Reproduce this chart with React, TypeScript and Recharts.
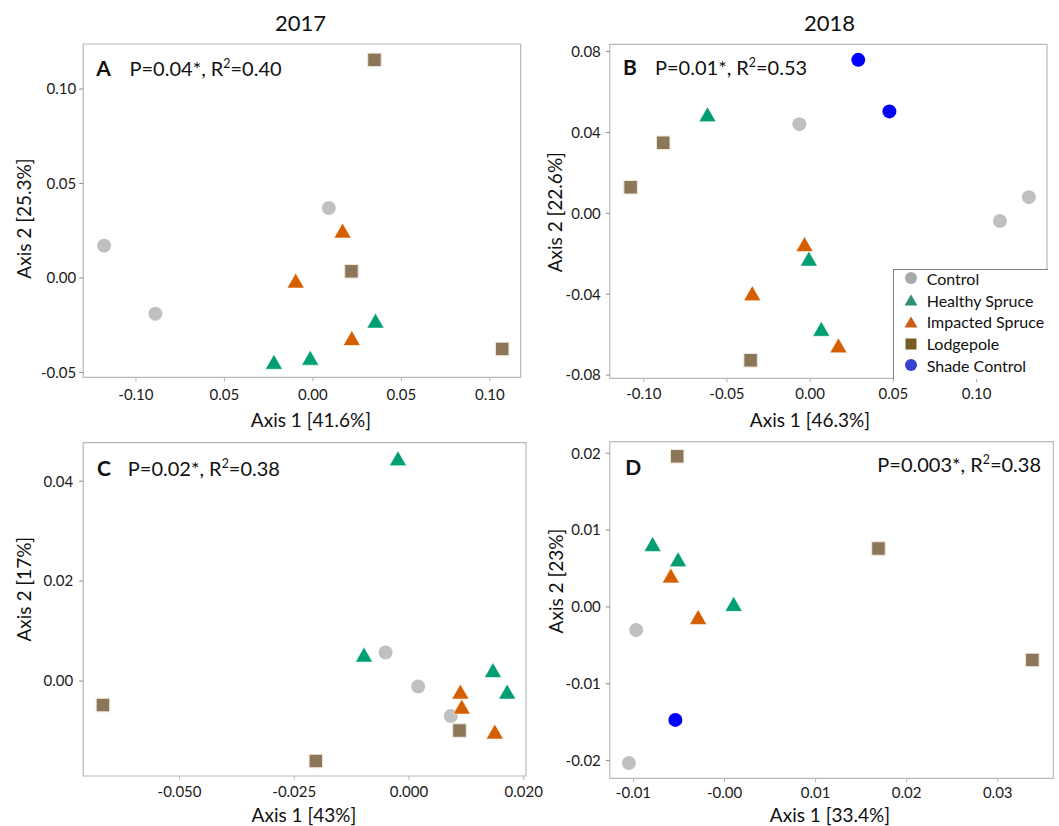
import React from 'react'
import { ScatterChart, Scatter, XAxis, YAxis, ReferenceArea, Legend } from 'recharts'

type Pt = { x: number; y: number }
type Kind = 'circle' | 'triangle' | 'square'

const FONT = 'Lato, "Open Sans", sans-serif'

// group colours for the points, and the (slightly darker) legend swatches
const groupNames = ['Control', 'Healthy Spruce', 'Impacted Spruce', 'Lodgepole', 'Shade Control']
const pointColors = ['#c0c0c0', '#009e73', '#d55e00', '#8b7758', '#0000ff']
const legendColors = ['#a8a8a8', '#2f8f72', '#c95d17', '#7a5c1e', '#3343cc']
const groupKinds: Kind[] = ['circle', 'triangle', 'triangle', 'square', 'circle']

// A: 2017
const aControl: Pt[] = [{ x: -0.118, y: 0.017 }, { x: -0.089, y: -0.019 }, { x: 0.009, y: 0.037 }]
const aHealthy: Pt[] = [{ x: -0.022, y: -0.0444 }, { x: -0.0015, y: -0.0422 }, { x: 0.0354, y: -0.0226 }]
const aImpacted: Pt[] = [{ x: 0.0168, y: 0.0251 }, { x: -0.0097, y: -0.0014 }, { x: 0.022, y: -0.0318 }]
const aLodgepole: Pt[] = [{ x: 0.0348, y: 0.1154 }, { x: 0.0218, y: 0.0035 }, { x: 0.107, y: -0.0376 }]
const aXTicks = [-0.1, -0.05, 0, 0.05, 0.1]
const aXLabels = ['-0.10', '0.05', '0.00', '0.05', '0.10']
const aYTicks = [-0.05, 0, 0.05, 0.1]
const aYLabels = ['-0.05', '0.00', '0.05', '0.10']

// B: 2018
const bControl: Pt[] = [{ x: -0.0065, y: 0.0441 }, { x: 0.114, y: -0.0038 }, { x: 0.1314, y: 0.008 }]
const bHealthy: Pt[] = [{ x: -0.0617, y: 0.049 }, { x: -0.0008, y: -0.0224 }, { x: 0.0067, y: -0.0571 }]
const bImpacted: Pt[] = [{ x: -0.0034, y: -0.0152 }, { x: -0.0348, y: -0.0395 }, { x: 0.017, y: -0.0653 }]
const bLodgepole: Pt[] = [{ x: -0.0883, y: 0.0349 }, { x: -0.1079, y: 0.0129 }, { x: -0.0358, y: -0.0727 }]
const bShade: Pt[] = [{ x: 0.0289, y: 0.0759 }, { x: 0.0476, y: 0.0504 }]
const bXTicks = [-0.1, -0.05, 0, 0.05, 0.1]
const bXLabels = ['-0.10', '-0.05', '0.00', '0.05', '0.10']
const bYTicks = [-0.08, -0.04, 0, 0.04, 0.08]
const bYLabels = ['-0.08', '-0.04', '0.00', '0.04', '0.08']

// C: 2017
const cControl: Pt[] = [{ x: -0.0051, y: 0.0057 }, { x: 0.002, y: -0.0011 }, { x: 0.0091, y: -0.007 }]
const cHealthy: Pt[] = [{ x: -0.0024, y: 0.0446 }, { x: -0.0098, y: 0.0053 }, { x: 0.0183, y: 0.0022 }, { x: 0.0214, y: -0.0021 }]
const cImpacted: Pt[] = [{ x: 0.0112, y: -0.0021 }, { x: 0.0115, y: -0.0051 }, { x: 0.0187, y: -0.0101 }]
const cLodgepole: Pt[] = [{ x: -0.0667, y: -0.0048 }, { x: -0.0203, y: -0.016 }, { x: 0.011, y: -0.0099 }]
const cXTicks = [-0.05, -0.025, 0, 0.025]
const cXLabels = ['-0.050', '-0.025', '0.000', '0.020']
const cYTicks = [0, 0.02, 0.04]
const cYLabels = ['0.00', '0.02', '0.04']

// D: 2018
const dControl: Pt[] = [{ x: -0.0097, y: -0.003 }, { x: -0.0105, y: -0.0203 }]
const dHealthy: Pt[] = [{ x: -0.0079, y: 0.0082 }, { x: -0.0051, y: 0.0062 }, { x: 0.001, y: 0.0004 }]
const dImpacted: Pt[] = [{ x: -0.0059, y: 0.0041 }, { x: -0.0029, y: -0.0013 }]
const dLodgepole: Pt[] = [{ x: -0.0052, y: 0.0196 }, { x: 0.0169, y: 0.0076 }, { x: 0.0338, y: -0.0069 }]
const dShade: Pt[] = [{ x: -0.0054, y: -0.0147 }]
const dXTicks = [-0.01, 0, 0.01, 0.02, 0.03]
const dXLabels = ['-0.01', '-0.00', '0.01', '0.02', '0.03']
const dYTicks = [-0.02, -0.01, 0, 0.01, 0.02]
const dYLabels = ['-0.02', '-0.01', '0.00', '0.01', '0.02']

function makeShape(kind: Kind, fill: string) {
  return (props: any) => {
    const { cx, cy } = props
    if (cx == null || cy == null) return <g />
    if (kind === 'circle') return <circle cx={cx} cy={cy} r={7} fill={fill} />
    if (kind === 'square')
      return <rect x={cx - 6.75} y={cy - 6.75} width={13.5} height={13.5} fill={fill} stroke="#eee8dd" strokeWidth={1} />
    return (
      <polygon
        points={`${cx},${cy - 7.5} ${cx + 8.6},${cy + 7.5} ${cx - 8.6},${cy + 7.5}`}
        fill={fill}
        stroke="#ffffff"
        strokeWidth={0.6}
      />
    )
  }
}

function LegendIcon({ kind, color }: { kind: Kind; color: string }) {
  return (
    <svg width={14} height={14} style={{ display: 'block' }}>
      {kind === 'circle' && <circle cx={7} cy={7} r={6} fill={color} />}
      {kind === 'square' && <rect x={1.5} y={1.5} width={11} height={11} fill={color} />}
      {kind === 'triangle' && <polygon points="7,1.5 13.5,12.5 0.5,12.5" fill={color} />}
    </svg>
  )
}

function renderLegend() {
  return (
    <div
      style={{
        position: 'relative',
        width: 154,
        height: 109,
        borderLeft: '1.5px solid #7f7f7f',
        borderTop: '1.5px solid #7f7f7f',
        background: '#fff',
        fontFamily: FONT,
        fontSize: 16,
        color: '#111',
      }}
    >
      {groupNames.map((name, i) => (
        <div
          key={name}
          style={{
            position: 'absolute',
            left: 10,
            top: -3 + i * 21.8,
            height: 22,
            display: 'flex',
            alignItems: 'center',
            whiteSpace: 'nowrap',
          }}
        >
          <LegendIcon kind={groupKinds[i]} color={legendColors[i]} />
          <span style={{ marginLeft: 9 }}>{name}</span>
        </div>
      ))}
    </div>
  )
}

interface PanelProps {
  left: number
  top: number
  width: number
  height: number
  margin: { top: number; right: number; bottom: number; left: number }
  xDomain: [number, number]
  yDomain: [number, number]
  xTicks: number[]
  xLabels: string[]
  yTicks: number[]
  yLabels: string[]
  xTickMargin: number
  yTickMargin: number
  series: (Pt[] | null)[]
  legend?: boolean
}

function Panel(p: PanelProps) {
  const tick = { fontSize: 15, fill: '#1a1a1a', fontFamily: FONT }
  return (
    <div style={{ position: 'absolute', left: p.left, top: p.top }}>
      <ScatterChart width={p.width} height={p.height} margin={p.margin}>
        <XAxis
          dataKey="x"
          type="number"
          domain={p.xDomain}
          ticks={p.xTicks}
          interval={0}
          allowDataOverflow
          tickFormatter={(_v: number, i: number) => p.xLabels[i]}
          tick={tick}
          tickSize={4}
          tickMargin={p.xTickMargin}
          tickLine={{ stroke: '#b5b5b5' }}
          axisLine={false}
          height={30}
        />
        <YAxis
          dataKey="y"
          type="number"
          domain={p.yDomain}
          ticks={p.yTicks}
          interval={0}
          allowDataOverflow
          tickFormatter={(_v: number, i: number) => p.yLabels[i]}
          tick={tick}
          tickSize={4}
          tickMargin={p.yTickMargin}
          tickLine={{ stroke: '#8c8c8c' }}
          axisLine={false}
          width={60}
        />
        <ReferenceArea
          x1={p.xDomain[0]}
          x2={p.xDomain[1]}
          y1={p.yDomain[0]}
          y2={p.yDomain[1]}
          fill="none"
          stroke="#b8b8b8"
          strokeWidth={1.2}
        />
        {p.series.map((data, i) =>
          data ? (
            <Scatter
              key={groupNames[i]}
              name={groupNames[i]}
              data={data}
              fill={pointColors[i]}
              shape={makeShape(groupKinds[i], pointColors[i])}
              isAnimationActive={false}
            />
          ) : null,
        )}
        {p.legend && (
          <Legend
            layout="vertical"
            align="center"
            verticalAlign="middle"
            content={renderLegend}
            wrapperStyle={{ left: 362.7, top: 269.3, width: 155, height: 110 }}
          />
        )}
      </ScatterChart>
    </div>
  )
}

function Sup({ pre, post, x, y, size, anchor }: { pre: string; post: string; x: number; y: number; size: number; anchor?: 'start' | 'end' }) {
  return (
    <text x={x} y={y} fontSize={size} textAnchor={anchor ?? 'start'} fill="#111">
      <tspan>{pre}</tspan>
      <tspan dy={-8} fontSize={size * 0.62}>2</tspan>
      <tspan dy={8}>{post}</tspan>
    </text>
  )
}

export default function App() {
  return (
    <div style={{ position: 'absolute', left: 0, top: 0, width: 1059, height: 826, background: '#fff', fontFamily: FONT }}>
      <Panel
        left={0}
        top={0}
        width={530}
        height={420}
        margin={{ top: 44, right: 9.4, bottom: 12.7, left: 23.2 }}
        xDomain={[-0.1298, 0.1174]}
        yDomain={[-0.0526, 0.1238]}
        xTicks={aXTicks}
        xLabels={aXLabels}
        yTicks={aYTicks}
        yLabels={aYLabels}
        xTickMargin={8}
        yTickMargin={3}
        series={[aControl, aHealthy, aImpacted, aLodgepole, null]}
      />
      <Panel
        left={530}
        top={0}
        width={529}
        height={420}
        margin={{ top: 44.3, right: 12, bottom: 11.7, left: 19.8 }}
        xDomain={[-0.1204, 0.1423]}
        yDomain={[-0.0816, 0.0836]}
        xTicks={bXTicks}
        xLabels={bXLabels}
        yTicks={bYTicks}
        yLabels={bYLabels}
        xTickMargin={6}
        yTickMargin={5}
        series={[bControl, bHealthy, bImpacted, bLodgepole, bShade]}
        legend
      />
      <Panel
        left={0}
        top={420}
        width={560}
        height={406}
        margin={{ top: 22.7, right: 34, bottom: 20, left: 23.2 }}
        xDomain={[-0.071, 0.0255]}
        yDomain={[-0.019, 0.0477]}
        xTicks={cXTicks}
        xLabels={cXLabels}
        yTicks={cYTicks}
        yLabels={cYLabels}
        xTickMargin={6}
        yTickMargin={6}
        series={[cControl, cHealthy, cImpacted, cLodgepole, null]}
      />
      <Panel
        left={530}
        top={420}
        width={529}
        height={406}
        margin={{ top: 21.7, right: 5.7, bottom: 17.7, left: 19.8 }}
        xDomain={[-0.0126, 0.0361]}
        yDomain={[-0.0223, 0.0215]}
        xTicks={dXTicks}
        xLabels={dXLabels}
        yTicks={dYTicks}
        yLabels={dYLabels}
        xTickMargin={5}
        yTickMargin={5}
        series={[dControl, dHealthy, dImpacted, dLodgepole, dShade]}
      />
      <svg
        width={1059}
        height={826}
        style={{ position: 'absolute', left: 0, top: 0, pointerEvents: 'none', fontFamily: FONT }}
      >
        <text x={300.5} y={31} fontSize={22} textAnchor="middle" fill="#111">2017</text>
        <text x={829.5} y={31} fontSize={22} textAnchor="middle" fill="#111">2018</text>

        <text x={96.3} y={76} fontSize={21} fontWeight={700} fill="#111">A</text>
        <Sup pre="P=0.04*, R" post="=0.40" x={129.5} y={76} size={20} />
        <text x={623} y={75.2} fontSize={21} fontWeight={700} fill="#111">B</text>
        <Sup pre="P=0.01*, R" post="=0.53" x={655} y={75.2} size={20} />
        <text x={97} y={476} fontSize={21} fontWeight={700} fill="#111">C</text>
        <Sup pre="P=0.02*, R" post="=0.38" x={127.8} y={476} size={20} />
        <text x={625.3} y={474.7} fontSize={21} fontWeight={700} fill="#111">D</text>
        <Sup pre="P=0.003*, R" post="=0.38" x={1041} y={471.7} size={20} anchor="end" />

        <text x={311} y={427} fontSize={19} textAnchor="middle" fill="#111">Axis 1 [41.6%]</text>
        <text x={810} y={427} fontSize={19} textAnchor="middle" fill="#111">Axis 1 [46.3%]</text>
        <text x={304} y={822} fontSize={19} textAnchor="middle" fill="#111">Axis 1 [43%]</text>
        <text x={830} y={822} fontSize={19} textAnchor="middle" fill="#111">Axis 1 [33.4%]</text>

        <text x={30.5} y={218.5} fontSize={19} textAnchor="middle" fill="#111" transform="rotate(-90 30.5 218.5)">Axis 2 [25.3%]</text>
        <text x={562.5} y={212.2} fontSize={19} textAnchor="middle" fill="#111" transform="rotate(-90 562.5 212.2)">Axis 2 [22.6%]</text>
        <text x={31.4} y={589.2} fontSize={19} textAnchor="middle" fill="#111" transform="rotate(-90 31.4 589.2)">Axis 2 [17%]</text>
        <text x={562.5} y={581} fontSize={19} textAnchor="middle" fill="#111" transform="rotate(-90 562.5 581)">Axis 2 [23%]</text>
      </svg>
    </div>
  )
}
